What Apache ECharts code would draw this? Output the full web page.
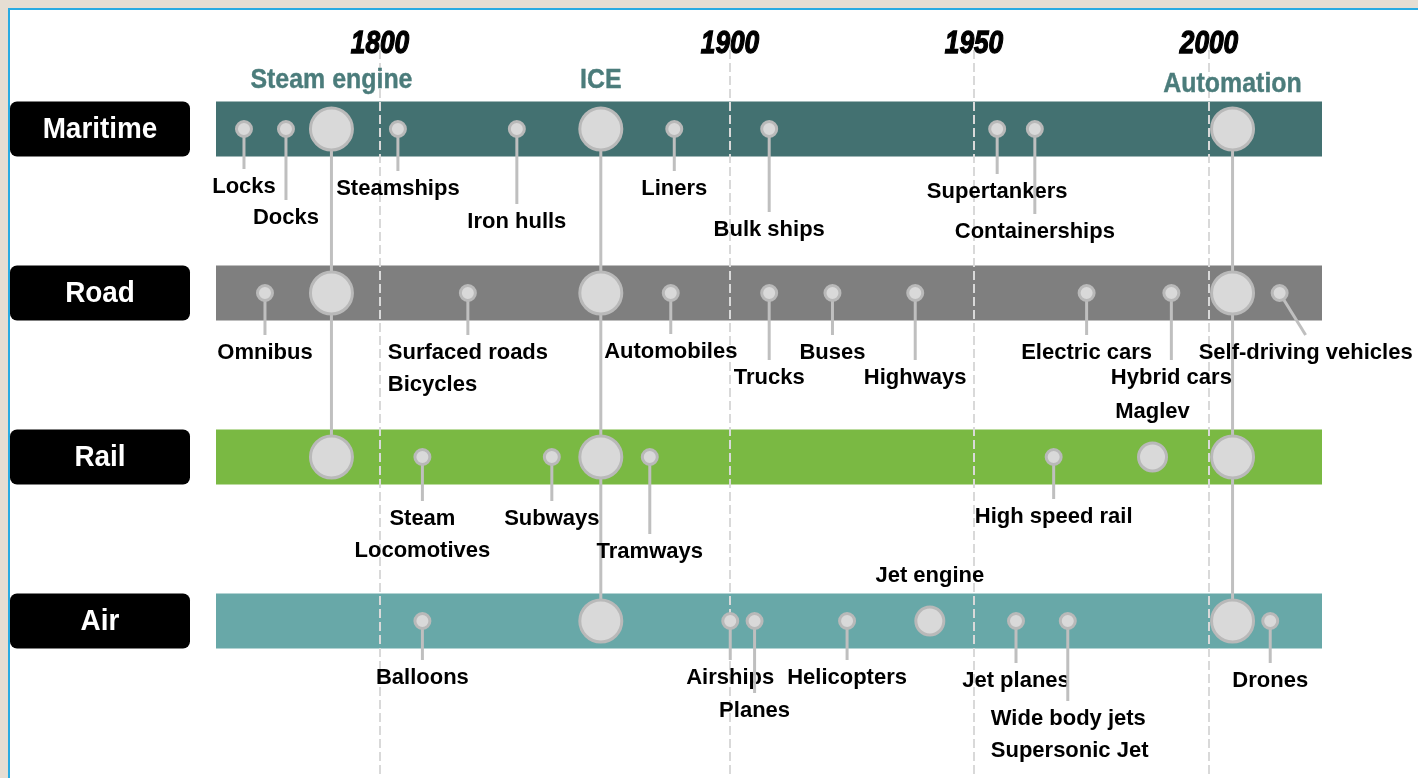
<!DOCTYPE html>
<html>
<head>
<meta charset="utf-8">
<title>Transport innovations timeline</title>
<script src="https://cdn.jsdelivr.net/npm/echarts@6.0.0/dist/echarts.min.js"></script>
<style>
  html, body { margin: 0; padding: 0; background: #fff; }
  #chart { width: 1418px; height: 778px; }
</style>
</head>
<body>
<div id="chart"></div>
<script>
const modes = ['Maritime', 'Road', 'Rail', 'Air'];
const bandColors = ['#437171', '#7f7f7f', '#7ab943', '#68a8a8'];

const milestoneYears = [1800, 1900, 1950, 2000];
// the source stretches the 20th century, so the axis is piecewise
const milestoneSpan = [0, 349.7, 593, 828.3];
const yearRange = [1753, 2024];

const revolutions = ['Steam engine', 'ICE', 'Automation'];
const revolutionYears = [1786, 1863, 2005];
const revolutionLastMode = [2, 3, 3];

const maritimeEvents = ['Locks', 'Docks', 'Steamships', 'Iron hulls', 'Liners', 'Bulk ships', 'Supertankers', 'Containerships'];
const maritimeYears = [1761, 1773, 1805, 1839, 1884, 1908, 1955, 1963];
const roadEvents = ['Omnibus', 'Surfaced roads\nBicycles', 'Automobiles', 'Trucks', 'Buses', 'Highways', 'Electric cars', 'Hybrid cars', 'Self-driving vehicles'];
const roadYears = [1767, 1825, 1883, 1908, 1921, 1938, 1974, 1992, 2015];
const railEvents = ['Steam\nLocomotives', 'Subways', 'Tramways', 'High speed rail'];
const railYears = [1812, 1849, 1877, 1967];
const airEvents = ['Balloons', 'Airships', 'Planes', 'Helicopters', 'Jet planes', 'Wide body jets\nSupersonic Jet', 'Drones'];
const airYears = [1812, 1900, 1905, 1924, 1959, 1970, 2013];

// mid-size circles, label sits above the band
const majorEvents = ['Maglev', 'Jet engine'];
const majorYears = [1988, 1941];
const majorModes = [2, 3];

// label layout (px below the band centre)
const labelDrop = {
  'Locks': 58, 'Docks': 89, 'Iron hulls': 93, 'Bulk ships': 101, 'Supertankers': 63, 'Containerships': 103,
  'Steamships': 60, 'Liners': 60,
  'Trucks': 85, 'Highways': 85, 'Hybrid cars': 85, 'Automobiles': 59,
  'Steam\nLocomotives': 62, 'Subways': 62, 'Tramways': 95,
  'Balloons': 57, 'Airships': 57, 'Planes': 90, 'Helicopters': 57, 'Wide body jets\nSupersonic Jet': 98
};
const labelShift = { 'Surfaced roads\nBicycles': -80, 'Wide body jets\nSupersonic Jet': -77, 'Self-driving vehicles': 26 };

const FONT = '"Liberation Sans", Arial, sans-serif';

function pos(year) {
  const y = milestoneYears, s = milestoneSpan;
  if (year <= y[0]) return s[0] + (year - y[0]) * (s[1] - s[0]) / (y[1] - y[0]);
  for (let i = 1; i < y.length; i++) {
    if (year <= y[i]) return s[i - 1] + (year - y[i - 1]) * (s[i] - s[i - 1]) / (y[i] - y[i - 1]);
  }
  const n = y.length - 1;
  return s[n] + (year - y[n]) * (s[n] - s[n - 1]) / (y[n] - y[n - 1]);
}

const events = [];
[[maritimeEvents, maritimeYears], [roadEvents, roadYears], [railEvents, railYears], [airEvents, airYears]]
  .forEach(([names, years], m) => {
    names.forEach((n, i) => events.push({ name: n, value: [pos(years[i]), m] }));
  });

const circleStyle = { fill: '#d9d9d9', stroke: '#b9b9b9', lineWidth: 3 };

function textEl(x, y, text, font, fill, align, scaleX, heavy) {
  const style = {
    text: text, font: font, fill: fill,
    align: align, textAlign: align,
    verticalAlign: 'middle', textVerticalAlign: 'middle',
    lineHeight: 32
  };
  if (heavy) {
    style.stroke = fill;
    style.lineWidth = heavy;
  }
  return { type: 'text', x: x, y: y, scaleX: scaleX || 1, style: style };
}

const chart = echarts.init(document.getElementById('chart'));

const option = {
  backgroundColor: '#fff',
  animation: false,
  grid: { left: 216, right: 96, top: 129, bottom: 157 },
  xAxis: { type: 'value', min: pos(yearRange[0]), max: pos(yearRange[1]), show: false },
  yAxis: { type: 'category', data: modes, inverse: true, boundaryGap: false, show: false },
  graphic: [
    { type: 'rect', shape: { x: 0, y: 0, width: 1418, height: 8 }, style: { fill: '#e6ded3' } },
    { type: 'rect', shape: { x: 0, y: 0, width: 8, height: 778 }, style: { fill: '#e6ded3' } },
    { type: 'rect', shape: { x: 8, y: 8, width: 1410, height: 2 }, style: { fill: '#29abe2' } },
    { type: 'rect', shape: { x: 8, y: 8, width: 2, height: 770 }, style: { fill: '#29abe2' } }
  ],
  series: [
    {
      // mode bands and their name boxes
      type: 'custom',
      z: 1,
      data: modes.map((m, i) => [0, i]),
      renderItem: function (params, api) {
        const cs = params.coordSys;
        const cy = api.coord([0, api.value(1)])[1];
        return {
          type: 'group',
          children: [
            { type: 'rect', shape: { x: cs.x, y: cy - 27.5, width: cs.width, height: 55 }, style: { fill: bandColors[params.dataIndex] } },
            { type: 'rect', shape: { x: 10, y: cy - 27.5, width: 180, height: 55, r: 7 }, style: { fill: '#000' } },
            textEl(100, cy + 1, modes[params.dataIndex], 'bold 30px ' + FONT, '#fff', 'center', 0.93)
          ]
        };
      }
    },
    {
      // year guides
      type: 'custom',
      z: 2,
      data: milestoneYears.map(y => [pos(y), 0]),
      renderItem: function (params, api) {
        const x = Math.round(api.coord([api.value(0), 0])[0]);
        return {
          type: 'group',
          children: [
            { type: 'line', shape: { x1: x, y1: 50, x2: x, y2: 778 }, style: { stroke: '#d9d9d9', lineWidth: 2, lineDash: [9, 4] } },
            textEl(x, 44, String(milestoneYears[params.dataIndex]), 'italic bold 32px ' + FONT, '#000', 'center', 0.82, 1.3)
          ]
        };
      }
    },
    {
      // revolutions linking the modes
      type: 'custom',
      z: 3,
      data: revolutionYears.map((y, i) => [pos(y), revolutionLastMode[i]]),
      renderItem: function (params, api) {
        const x = api.value(0), last = api.value(1);
        const top = api.coord([x, 0]);
        const bottom = api.coord([x, last]);
        const children = [
          { type: 'line', shape: { x1: top[0], y1: top[1], x2: bottom[0], y2: bottom[1] }, style: { stroke: '#c0c0c0', lineWidth: 3 } }
        ];
        for (let m = 0; m <= last; m++) {
          const p = api.coord([x, m]);
          children.push({ type: 'circle', shape: { cx: p[0], cy: p[1], r: 21 }, style: circleStyle });
        }
        const dy = params.dataIndex === 2 ? 45 : 49;
        children.push(textEl(top[0], top[1] - dy, revolutions[params.dataIndex], 'bold 28px ' + FONT, '#4b7c7b', 'center', 0.89, 0.4));
        return { type: 'group', children: children };
      }
    },
    {
      // secondary innovations
      type: 'custom',
      z: 4,
      data: majorYears.map((y, i) => [pos(y), majorModes[i]]),
      renderItem: function (params, api) {
        const p = api.coord([api.value(0), api.value(1)]);
        return {
          type: 'group',
          children: [
            { type: 'circle', shape: { cx: p[0], cy: p[1], r: 14 }, style: circleStyle },
            textEl(p[0], p[1] - 45, majorEvents[params.dataIndex], 'bold 22px ' + FONT, '#000', 'center')
          ]
        };
      }
    },
    {
      // individual innovations
      type: 'custom',
      z: 5,
      data: events.map(e => e.value),
      renderItem: function (params, api) {
        const name = events[params.dataIndex].name;
        const p = api.coord([api.value(0), api.value(1)]);
        const drop = labelDrop[name] || 60;
        const lines = name.split('\n').length;
        const shift = labelShift[name] || 0;
        const left = shift < 0;
        const tx = p[0] + shift;
        return {
          type: 'group',
          children: [
            { type: 'line', shape: { x1: p[0], y1: p[1], x2: left ? p[0] : tx, y2: p[1] + drop - 18 }, style: { stroke: '#bfbfbf', lineWidth: 3 } },
            { type: 'circle', shape: { cx: p[0], cy: p[1], r: 7.5 }, style: circleStyle },
            textEl(tx, p[1] + drop + 16 * (lines - 1), name, 'bold 22px ' + FONT, '#000', left ? 'left' : 'center')
          ]
        };
      }
    }
  ]
};

chart.setOption(option);
</script>
</body>
</html>
